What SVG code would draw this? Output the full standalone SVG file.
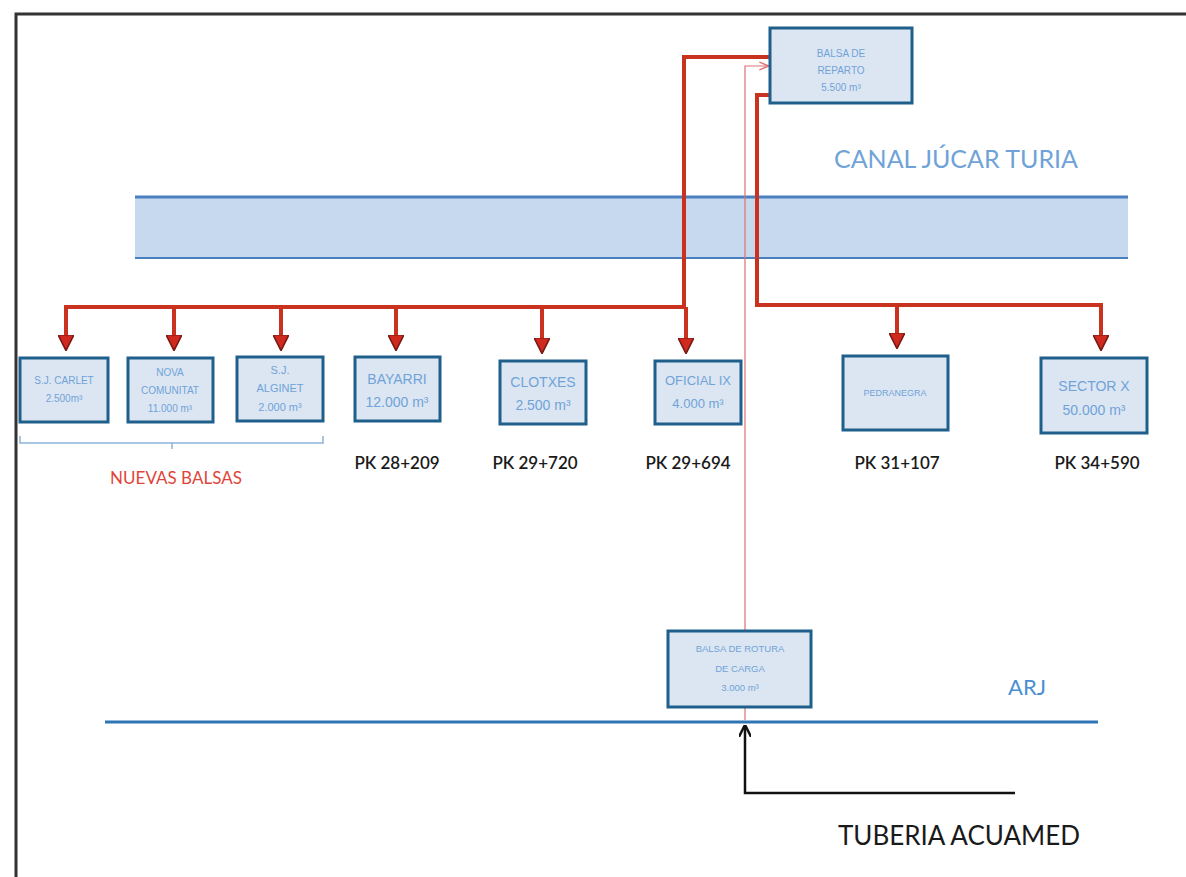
<svg xmlns="http://www.w3.org/2000/svg" width="1186" height="877" viewBox="0 0 1186 877">
<defs>
<marker id="ra" viewBox="0 0 10 10" refX="9" refY="5" markerWidth="4" markerHeight="4" orient="auto" markerUnits="strokeWidth">
<path d="M0,0 L10,5 L0,10 z" fill="#d02a1e" stroke="#7a1a14" stroke-width="1"/>
</marker>
<marker id="ka" viewBox="0 0 10 10" refX="9" refY="5" markerWidth="5" markerHeight="5" orient="auto" markerUnits="strokeWidth">
<path d="M0,0 L10,5 L0,10" fill="none" stroke="#111" stroke-width="2"/>
</marker>
<marker id="ta" viewBox="0 0 10 10" refX="9" refY="5" markerWidth="8" markerHeight="8" orient="auto" markerUnits="strokeWidth">
<path d="M0,1 L10,5 L0,9" fill="none" stroke="#e07070" stroke-width="1.5"/>
</marker>
<style>
.box{fill:#dce6f2;stroke:#1f5f8b;stroke-width:3}
.bt{font-family:"Liberation Sans",Arial,sans-serif;fill:#6fa3d8;text-anchor:middle}
.red{fill:none;stroke:#c8321f;stroke-width:4}
.pk{font-family:Lato,"Open Sans",sans-serif;font-size:17px;font-weight:600;fill:#1a1a1a;text-anchor:middle}
</style>
</defs>
<rect width="1186" height="877" fill="#fff"/>
<path d="M16,877 L16,14 L1186,14" fill="none" stroke="#333" stroke-width="3"/>

<g id="canal">
<rect x="135" y="197" width="993" height="61" fill="#c6d9ef"/>
<line x1="135" y1="197" x2="1128" y2="197" stroke="#4a7fc0" stroke-width="3"/>
<line x1="135" y1="258" x2="1128" y2="258" stroke="#4a7fc0" stroke-width="2"/>
<text x="956" y="168" font-family="Lato,'Open Sans',sans-serif" font-size="25" fill="#6fa3d8" text-anchor="middle">CANAL JÚCAR TURIA</text>
</g>

<g id="arj">
<line x1="105" y1="722" x2="1098" y2="722" stroke="#2e75b6" stroke-width="3"/>
<text x="1027" y="695" font-family="Lato,'Open Sans',sans-serif" font-size="22" fill="#4a8fd4" text-anchor="middle">ARJ</text>
</g>

<g id="connectors">
<polyline class="red" points="770,57 684,57 684,307 66,307 66,349" marker-end="url(#ra)"/>
<line class="red" x1="174" y1="307" x2="174" y2="349" marker-end="url(#ra)"/>
<line class="red" x1="281" y1="307" x2="281" y2="349" marker-end="url(#ra)"/>
<line class="red" x1="396" y1="307" x2="396" y2="349" marker-end="url(#ra)"/>
<line class="red" x1="542" y1="307" x2="542" y2="352" marker-end="url(#ra)"/>
<line class="red" x1="686" y1="307" x2="686" y2="352" marker-end="url(#ra)"/>
<polyline class="red" points="770,95 757,95 757,305 1101,305 1101,349" marker-end="url(#ra)"/>
<line class="red" x1="897" y1="305" x2="897" y2="347" marker-end="url(#ra)"/>
<polyline points="745,720 745,66 768,66" fill="none" stroke="#e07070" stroke-width="1.2" marker-end="url(#ta)"/>
<polyline points="1015,793 745,793 745,726" fill="none" stroke="#111" stroke-width="2.5" marker-end="url(#ka)"/>
<path d="M20,436 L20,443 L323,443 L323,436 M172,443 L172,449" fill="none" stroke="#8cb4dc" stroke-width="1.5"/>
</g>

<g id="reparto">
<rect class="box" x="770" y="28" width="142" height="75"/>
<text class="bt" font-size="10"><tspan x="841" y="57">BALSA DE</tspan><tspan x="841" y="74">REPARTO</tspan><tspan x="841" y="91">5.500 m³</tspan></text>
</g>

<g id="carlet">
<rect class="box" x="20" y="358" width="88" height="64"/>
<text class="bt" font-size="10"><tspan x="64" y="384">S.J. CARLET</tspan><tspan x="64" y="402">2.500m³</tspan></text>
</g>
<g id="nova">
<rect class="box" x="128" y="358" width="85" height="64"/>
<text class="bt" font-size="10"><tspan x="170" y="376">NOVA</tspan><tspan x="170" y="394">COMUNITAT</tspan><tspan x="170" y="412">11.000 m³</tspan></text>
</g>
<g id="alginet">
<rect class="box" x="237" y="357" width="86" height="64"/>
<text class="bt" font-size="11"><tspan x="280" y="374">S.J.</tspan><tspan x="280" y="392">ALGINET</tspan><tspan x="280" y="411">2.000 m³</tspan></text>
</g>
<g id="bayarri">
<rect class="box" x="355" y="357" width="85" height="64"/>
<text class="bt" font-size="14"><tspan x="397" y="384">BAYARRI</tspan><tspan x="397" y="407">12.000 m³</tspan></text>
</g>
<g id="clotxes">
<rect class="box" x="500" y="361" width="86" height="63"/>
<text class="bt" font-size="14"><tspan x="543" y="387">CLOTXES</tspan><tspan x="543" y="410">2.500 m³</tspan></text>
</g>
<g id="oficial">
<rect class="box" x="655" y="361" width="86" height="63"/>
<text class="bt" font-size="13"><tspan x="698" y="385">OFICIAL IX</tspan><tspan x="698" y="408">4.000 m³</tspan></text>
</g>
<g id="pedranegra">
<rect class="box" x="843" y="356" width="105" height="74"/>
<text class="bt" font-size="9" x="895" y="396">PEDRANEGRA</text>
</g>
<g id="sector">
<rect class="box" x="1041" y="358" width="106" height="75"/>
<text class="bt" font-size="14"><tspan x="1094" y="391">SECTOR X</tspan><tspan x="1094" y="415">50.000 m³</tspan></text>
</g>
<g id="rotura">
<rect class="box" x="668" y="631" width="143" height="76"/>
<text class="bt" font-size="9.5"><tspan x="740" y="652">BALSA DE ROTURA</tspan><tspan x="740" y="672">DE CARGA</tspan><tspan x="740" y="691">3.000 m³</tspan></text>
</g>

<g id="labels">
<text x="176" y="484" font-family="Lato,'Open Sans',sans-serif" font-size="17" fill="#e0453a" text-anchor="middle">NUEVAS BALSAS</text>
<text class="pk" x="397" y="469">PK 28+209</text>
<text class="pk" x="535" y="469">PK 29+720</text>
<text class="pk" x="688" y="469">PK 29+694</text>
<text class="pk" x="897" y="469">PK 31+107</text>
<text class="pk" x="1097" y="469">PK 34+590</text>
<text x="959" y="845" font-family="Lato,'Open Sans',sans-serif" font-size="26" fill="#1a1a1a" text-anchor="middle">TUBERIA ACUAMED</text>
</g>
</svg>
